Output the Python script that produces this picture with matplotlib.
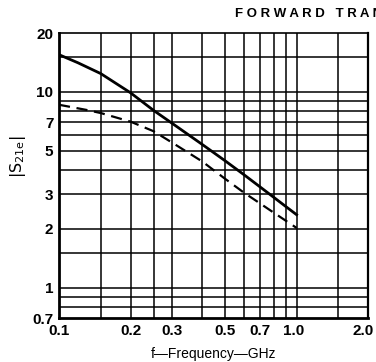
import matplotlib
matplotlib.use("Agg")
import matplotlib.pyplot as plt
import matplotlib.transforms as mtransforms
from matplotlib.ticker import FixedLocator, NullLocator

# values
freq_solid = [0.1, 0.12, 0.15, 0.2, 0.25, 0.3, 0.4, 0.5, 0.6, 0.7, 0.8, 0.9, 1.0]
s21_solid = [15.5, 14.1, 12.4, 9.9, 8.05, 6.9, 5.4, 4.45, 3.78, 3.28, 2.9, 2.6, 2.36]
freq_dashed = [0.1, 0.13, 0.15, 0.2, 0.25, 0.3, 0.4, 0.5, 0.6, 0.7, 0.8, 0.9, 1.0]
s21_dashed = [8.6, 8.1, 7.8, 7.05, 6.3, 5.5, 4.42, 3.6, 3.06, 2.7, 2.42, 2.2, 2.02]

x_ticks = [0.1, 0.2, 0.3, 0.5, 0.7, 1.0, 2.0]
x_labels = ["0.1", "0.2", "0.3", "0.5", "0.7", "1.0", "2.0"]
y_ticks = [0.7, 1, 2, 3, 5, 7, 10, 20]
y_labels = ["0.7", "1", "2", "3", "5", "7", "10", "20"]

x_grid = [0.15, 0.2, 0.25, 0.3, 0.4, 0.5, 0.6, 0.7, 0.8, 0.9, 1.0, 1.5]
y_grid = [0.8, 0.9, 1, 1.5, 2, 3, 4, 5, 6, 7, 8, 9, 10, 15]

fig = plt.figure(figsize=(3.76, 3.62), dpi=100)
ax = fig.add_axes([0.157, 0.1215, 0.822, 0.7873])
ax.set_xscale("log")
ax.set_yscale("log")
ax.set_xlim(0.1, 2.0)
ax.set_ylim(0.7, 20)

for xv in x_grid:
	ax.axvline(xv, color="black", lw=1.1, zorder=1)
for yv in y_grid:
	ax.axhline(yv, color="black", lw=1.1, zorder=1)

ax.plot(freq_solid, s21_solid, color="black", lw=2.0, zorder=3)
ax.plot(freq_dashed, s21_dashed, color="black", lw=1.6, dashes=(5, 3), zorder=3)

ax.xaxis.set_major_locator(FixedLocator(x_ticks))
ax.xaxis.set_minor_locator(NullLocator())
ax.set_xticklabels(x_labels)
ax.yaxis.set_major_locator(FixedLocator(y_ticks))
ax.yaxis.set_minor_locator(NullLocator())
ax.set_yticklabels(y_labels)
ax.tick_params(length=0, pad=4)
for lab in ax.get_xticklabels() + ax.get_yticklabels():
	lab.set_family("Liberation Sans")
	lab.set_fontweight("bold")
	lab.set_fontsize(11)

# nudge the right-hand x labels left, as printed on the sheet
shifts = {"1.0": -3, "2.0": -5}
for lab in ax.get_xticklabels():
	dx = shifts.get(lab.get_text(), 0)
	if dx:
		off = mtransforms.ScaledTranslation(dx / 100, 0, fig.dpi_scale_trans)
		lab.set_transform(lab.get_transform() + off)

ax.spines["left"].set_linewidth(2.0)
ax.spines["bottom"].set_linewidth(2.0)
ax.spines["right"].set_linewidth(1.6)
ax.spines["top"].set_linewidth(1.2)

ax.set_xlabel("f\u2014Frequency\u2014GHz", fontsize=10, family="Liberation Sans", labelpad=7)
fig.text(0.048, 0.566, r"$|\mathrm{S_{21e}}|$", rotation=90, fontsize=11.5,
	ha="center", va="center")
fig.text(0.625, 0.962, "F O R W A R D   T R A N", fontsize=9.5,
	fontweight="bold", family="Liberation Sans", ha="left", va="center")

fig.savefig("out.png", dpi=100)
